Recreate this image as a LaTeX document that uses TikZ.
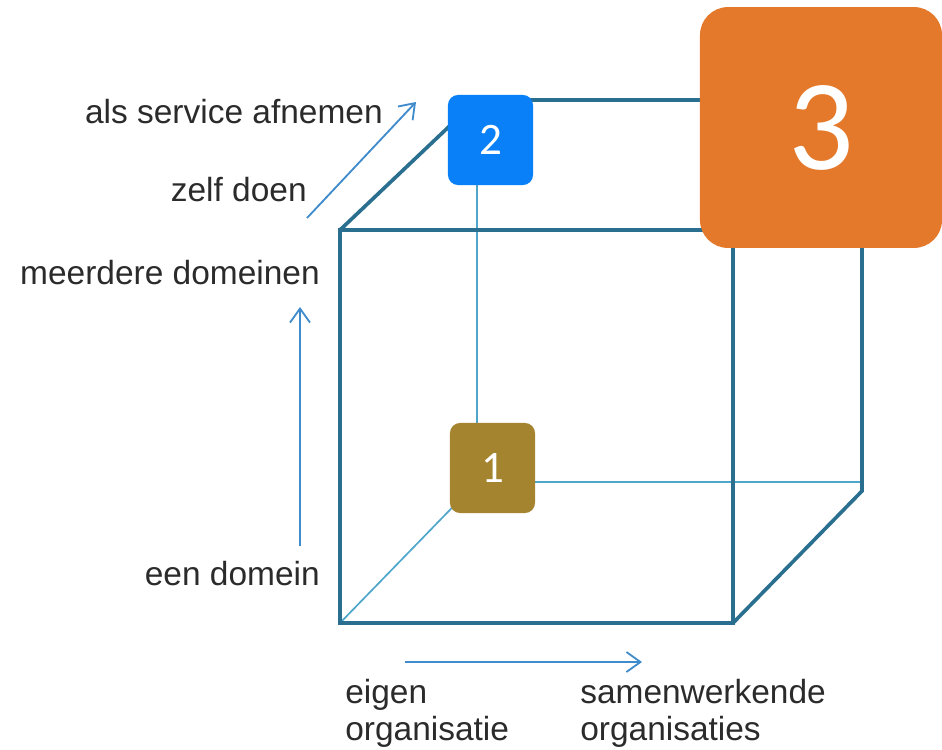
\documentclass[tikz,border=0pt]{standalone}
\usepackage{fontspec}
\setmainfont{Liberation Sans}
\newfontfamily\numfont{Carlito}
\usetikzlibrary{arrows.meta}
\definecolor{cubeline}{HTML}{2A6F8F}
\definecolor{hiddenline}{HTML}{4FA6CB}
\definecolor{axisarrow}{HTML}{3F8BCB}
\definecolor{labeltext}{HTML}{2B2B2B}
\definecolor{boxgold}{HTML}{A58430}
\definecolor{boxblue}{HTML}{0A80F8}
\definecolor{boxorange}{HTML}{E5792B}
\tikzset{edge/.style={draw=cubeline, line width=2.6pt},
 hidden/.style={draw=hiddenline, line width=1.2pt},
 axis/.style={draw=axisarrow, line width=1.3pt, -{Straight Barb[length=3.5mm,width=5mm]}},
 axislabel/.style={text=labeltext, font=\fontsize{23.8}{26.3}\selectfont, inner sep=0pt},
 numbox/.style={rounded corners=2.5mm, minimum width=2.125cm, minimum height=2.25cm,
  inner sep=0pt, text=white, font=\numfont\fontsize{32}{36}\selectfont},
}

\begin{document}
\begin{tikzpicture}[x=0.025cm, y=-0.025cm]
        \useasboundingbox (0, 0) rectangle (942, 750);
        \coordinate (ftl) at (340, 230);
        \coordinate (ftr) at (733, 230);
        \coordinate (fbl) at (340, 623);
        \coordinate (fbr) at (733, 623);
        \coordinate (btl) at (477, 100);
        \coordinate (btr) at (862, 100);
        \coordinate (bbl) at (477, 482);
        \coordinate (bbr) at (862, 491);
        \draw [hidden] (btl) -- (bbl) -- (bbl -| bbr);
        \draw [hidden] (fbl) -- (bbl);
        \draw [edge, line join=miter] (ftl) -- (ftr) -- (fbr) -- (fbl) -- cycle;
        \draw [edge] (ftl) -- (btl) -- (btr) -- (bbr) -- (fbr);
        \draw [edge] (ftr) -- (btr);
        \node [numbox, fill=boxgold] (b1) at (492.5, 468) {1};
        \node [numbox, fill=boxblue] (b2) at (490.5, 140) {2};
        \node [numbox, fill=boxorange, rounded corners=7mm, minimum width=6.05cm,
          minimum height=6.02cm, font=\numfont\fontsize{92}{96}\selectfont] (b3) at (821, 127.5) {3};
        \coordinate (d0) at (307, 218);
        \coordinate (d1) at (416, 102);
        \coordinate (v0) at (300, 546);
        \coordinate (v1) at (300, 307);
        \coordinate (h0) at (405, 662);
        \coordinate (h1) at (642, 662);
        \draw [axis] (d0) -- (d1);
        \draw [axis] (v0) -- (v1);
        \draw [axis] (h0) -- (h1);
        \node [axislabel, anchor=base east] (service) at (383, 123) {als service afnemen};
        \node [axislabel, anchor=base east] (zelf) at (307, 201) {zelf doen};
        \node [axislabel, anchor=base east] (meer) at (320, 284) {meerdere domeinen};
        \node [axislabel, anchor=base east] (een) at (320, 585) {een domein};
        \node [axislabel, anchor=base west] (eigen) at (345, 703) {eigen};
        \node [axislabel, anchor=base west] (eigenorg) at (345, 740) {organisatie};
        \node [axislabel, anchor=base west] (samen) at (580, 703) {samenwerkende};
        \node [axislabel, anchor=base west] (samenorg) at (580, 740) {organisaties};
    \end{tikzpicture}
\end{document}
